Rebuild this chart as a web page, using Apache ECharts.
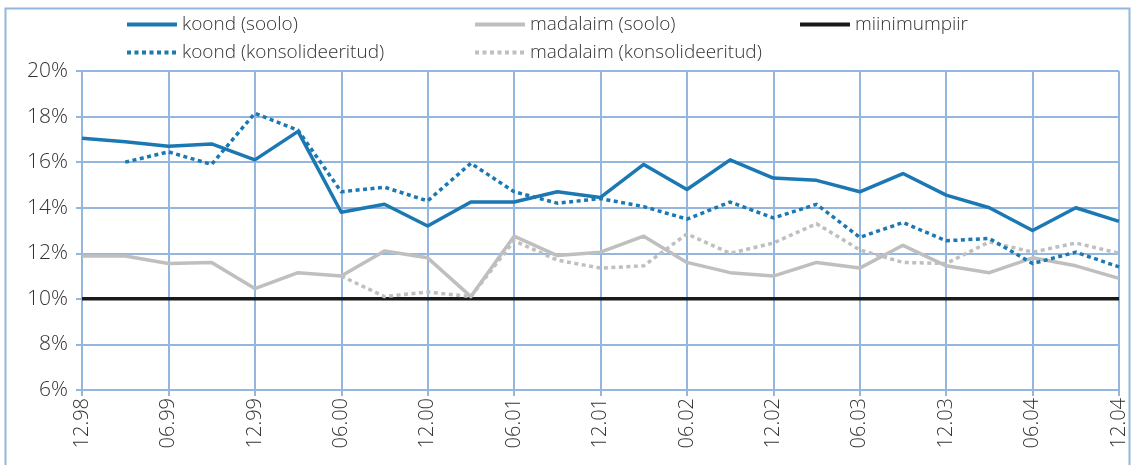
<!DOCTYPE html>
<html><head><meta charset="utf-8">
<script src="https://cdn.jsdelivr.net/npm/echarts@6/dist/echarts.min.js"></script>
<style>html,body{margin:0;padding:0;background:#fff}#c{width:1132px;height:465px}</style>
</head><body><div id="c"></div>
<script>
const categories = ['12.98','03.99','06.99','09.99','12.99','03.00','06.00','09.00','12.00','03.01','06.01','09.01','12.01','03.02','06.02','09.02','12.02','03.03','06.03','09.03','12.03','03.04','06.04','09.04','12.04'];
const koondSoolo = [17.05,16.9,16.7,16.8,16.1,17.35,13.8,14.15,13.2,14.25,14.25,14.7,14.45,15.9,14.8,16.1,15.3,15.2,14.7,15.5,14.55,14.0,13.0,14.0,13.4];
const koondKons = [null,16.0,16.45,15.9,18.15,17.4,14.7,14.9,14.3,15.95,14.7,14.2,14.4,14.05,13.5,14.25,13.55,14.15,12.7,13.35,12.55,12.65,11.55,12.05,11.4];
const madalaimSoolo = [11.88,11.88,11.55,11.6,10.45,11.15,11.0,12.1,11.8,10.1,12.75,11.9,12.05,12.75,11.6,11.15,11.0,11.6,11.35,12.35,11.45,11.15,11.8,11.45,10.9];
const madalaimKons = [null,null,null,null,null,null,11.0,10.1,10.3,10.1,12.55,11.7,11.35,11.45,12.85,12.0,12.45,13.3,12.15,11.6,11.55,12.5,12.05,12.45,12.0];
const miinimum = categories.map(() => 10);
const yTicks = {min: 6, max: 20, interval: 2};

const BLUE = '#1b78b3', GRAY = '#bfbfbf', BLACK = '#1a1a1a', GRID = '#95b6de';
const FONT = 'Open Sans';
const chart = echarts.init(document.getElementById('c'));
const legendText = {fontFamily: FONT, fontSize: 19, fontWeight: 300, color: '#333'};
function ser(name, data, color, dotted, z) {
  return {name, type: 'line', data, symbol: 'none', z, connectNulls: false,
    lineStyle: {color, width: 3.5, type: dotted ? [4, 3.5] : 'solid', cap: 'butt', join: 'round'},
    itemStyle: {color}, emphasis: {disabled: true}};
}
const legendBase = {orient: 'vertical', top: 10, itemWidth: 50, itemHeight: 14, itemGap: 9, textStyle: legendText,
  itemStyle: {opacity: 0}, lineStyle: {width: 4}};
chart.setOption({
  animation: false,
  graphic: [{type: 'rect', shape: {x: 5.5, y: 8.5, width: 1124, height: 470}, style: {fill: 'none', stroke: GRID, lineWidth: 2}, silent: true}],
  legend: [
    Object.assign({data: ['koond (soolo)', 'koond (konsolideeritud)'], left: 120}, legendBase),
    Object.assign({data: ['madalaim (soolo)', 'madalaim (konsolideeritud)'], left: 468}, legendBase),
    Object.assign({data: ['miinimumpiir'], left: 793}, legendBase)
  ],
  grid: {left: 82, right: 13, top: 71, bottom: 75, containLabel: false},
  xAxis: {type: 'category', data: categories, boundaryGap: false,
    axisLine: {lineStyle: {color: GRID, width: 2}},
    axisTick: {show: true, interval: 1, length: 6, lineStyle: {color: GRID, width: 2}},
    splitLine: {show: true, interval: 1, lineStyle: {color: GRID, width: 2}},
    axisLabel: {interval: 1, rotate: 90, margin: 8, fontFamily: FONT, fontSize: 20, fontWeight: 300, color: '#333'}},
  yAxis: {type: 'value', min: yTicks.min, max: yTicks.max, interval: yTicks.interval,
    axisLine: {show: true, lineStyle: {color: GRID, width: 2}},
    axisTick: {show: true, length: 6, lineStyle: {color: GRID, width: 2}},
    splitLine: {lineStyle: {color: GRID, width: 2}},
    axisLabel: {formatter: '{value}%', margin: 14, fontFamily: FONT, fontSize: 21, fontWeight: 300, color: '#333'}},
  series: [
    ser('koond (soolo)', koondSoolo, BLUE, false, 6),
    ser('madalaim (soolo)', madalaimSoolo, GRAY, false, 4),
    ser('miinimumpiir', miinimum, BLACK, false, 3),
    ser('koond (konsolideeritud)', koondKons, BLUE, true, 5),
    ser('madalaim (konsolideeritud)', madalaimKons, GRAY, true, 3)
  ]
});
</script></body></html>
